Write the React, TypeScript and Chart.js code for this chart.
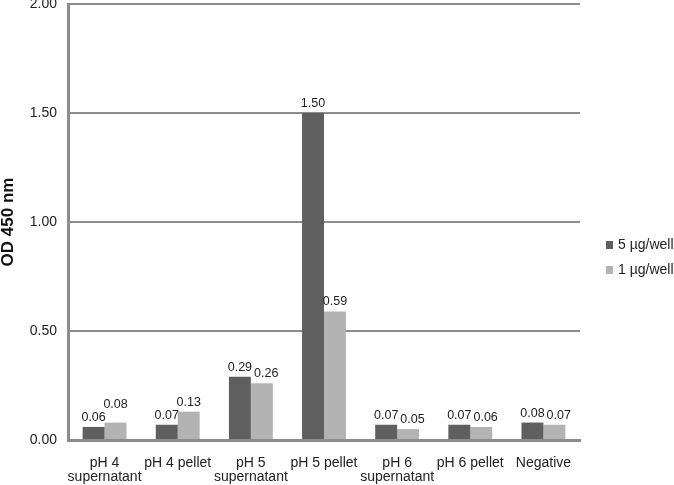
import React, { useEffect, useRef } from "react";
import { Chart, registerables } from "chart.js";

Chart.register(...registerables);

const categories: (string | string[])[] = [
  ["pH 4", "supernatant"],
  "pH 4 pellet",
  ["pH 5", "supernatant"],
  "pH 5 pellet",
  ["pH 6", "supernatant"],
  "pH 6 pellet",
  "Negative",
];
const series5 = [0.06, 0.07, 0.29, 1.5, 0.07, 0.07, 0.08];
const series1 = [0.08, 0.13, 0.26, 0.59, 0.05, 0.06, 0.07];
const seriesNames = ["5 µg/well", "1 µg/well"];
const seriesColors = ["#5f5f5f", "#b3b3b3"];
const yTicks = [0, 0.5, 1, 1.5, 2];

const FONT = "'Liberation Sans', Arial, sans-serif";
const GRID = "#8c8c8c";

const valueLabels = {
  id: "valueLabels",
  afterDatasetsDraw(chart: any) {
    const ctx = chart.ctx;
    ctx.save();
    ctx.font = `12.5px ${FONT}`;
    ctx.fillStyle = "#222";
    ctx.textAlign = "center";
    ctx.textBaseline = "alphabetic";
    const H = 10; // approx glyph height
    const n = chart.data.labels.length;
    for (let i = 0; i < n; i++) {
      const b1 = chart.getDatasetMeta(0).data[i];
      const b2 = chart.getDatasetMeta(1).data[i];
      const t1 = Number(chart.data.datasets[0].data[i]).toFixed(2);
      const t2 = Number(chart.data.datasets[1].data[i]).toFixed(2);
      const w1 = ctx.measureText(t1).width;
      const w2 = ctx.measureText(t2).width;
      let x1 = b1.x, y1 = b1.y - 6;
      let x2 = b2.x, y2 = b2.y - 6;
      const hOverlap = (x1 + w1 / 2 + 2) - (x2 - w2 / 2);
      const vOverlap = Math.abs(y1 - y2) < H + 2;
      if (hOverlap > 0 && vOverlap) {
        if (b2.y < b1.y - 3) {
          y2 = y1 - H - 3;
        } else {
          const right = Math.min(hOverlap, 6);
          x2 += right;
          x1 -= hOverlap - right;
        }
      }
      ctx.fillText(t1, x1, y1);
      ctx.fillText(t2, x2, y2);
    }
    ctx.restore();
  },
};

const sideLegend = {
  id: "sideLegend",
  afterDraw(chart: any) {
    const ctx = chart.ctx;
    ctx.save();
    ctx.font = `14px ${FONT}`;
    ctx.textBaseline = "middle";
    ctx.textAlign = "left";
    const x = chart.chartArea.right + 26;
    const y0 = 245;
    chart.data.datasets.forEach((ds: any, i: number) => {
      const y = y0 + i * 25;
      ctx.fillStyle = ds.backgroundColor;
      ctx.fillRect(x, y - 4, 7, 8);
      ctx.fillStyle = "#222";
      ctx.fillText(ds.label, x + 12, y);
    });
    ctx.restore();
  },
};

export default function App() {
  const ref = useRef<HTMLCanvasElement>(null);
  useEffect(() => {
    if (!ref.current) return;
    const chart = new Chart(ref.current, {
      type: "bar",
      data: {
        labels: categories,
        datasets: [
          { label: seriesNames[0], data: series5, backgroundColor: seriesColors[0] },
          { label: seriesNames[1], data: series1, backgroundColor: seriesColors[1] },
        ],
      },
      options: {
        animation: false,
        responsive: false,
        maintainAspectRatio: false,
        layout: { padding: { left: 0, right: 94, top: 4, bottom: 0 } },
        datasets: { bar: { categoryPercentage: 0.6, barPercentage: 1.0 } },
        plugins: { legend: { display: false }, tooltip: { enabled: false } },
        scales: {
          x: {
            grid: { display: false, drawTicks: false },
            border: { display: true, color: GRID, width: 3 },
            ticks: {
              font: { family: FONT, size: 14, lineHeight: 1.0 },
              color: "#222",
              maxRotation: 0,
              autoSkip: false,
              padding: 16,
            },
            afterFit(scale: any) {
              scale.height = 45;
              scale.paddingLeft = 0;
              scale.paddingRight = 0;
            },
          },
          y: {
            min: 0,
            max: 2,
            afterBuildTicks(scale: any) {
              scale.ticks = yTicks.map((v) => ({ value: v }));
            },
            grid: { color: GRID, lineWidth: 2, drawTicks: false },
            border: { display: true, color: GRID, width: 3 },
            ticks: {
              font: { family: FONT, size: 14 },
              color: "#222",
              padding: 11,
              callback: (v: any) => Number(v).toFixed(2),
            },
            title: {
              display: true,
              text: "OD 450 nm",
              font: { family: FONT, size: 17, weight: "bold" },
              color: "#111",
              padding: { top: -2, bottom: 6 },
            },
            afterFit(scale: any) {
              scale.width = 68;
              scale.paddingTop = 0;
              scale.paddingBottom = 0;
            },
          },
        },
      },
      plugins: [valueLabels, sideLegend],
    });
    return () => chart.destroy();
  }, []);
  return (
    <div style={{ position: "fixed", left: 0, top: 0, width: 674, height: 485, background: "#fff" }}>
      <canvas ref={ref} width={674} height={485} style={{ width: 674, height: 485 }} />
    </div>
  );
}
